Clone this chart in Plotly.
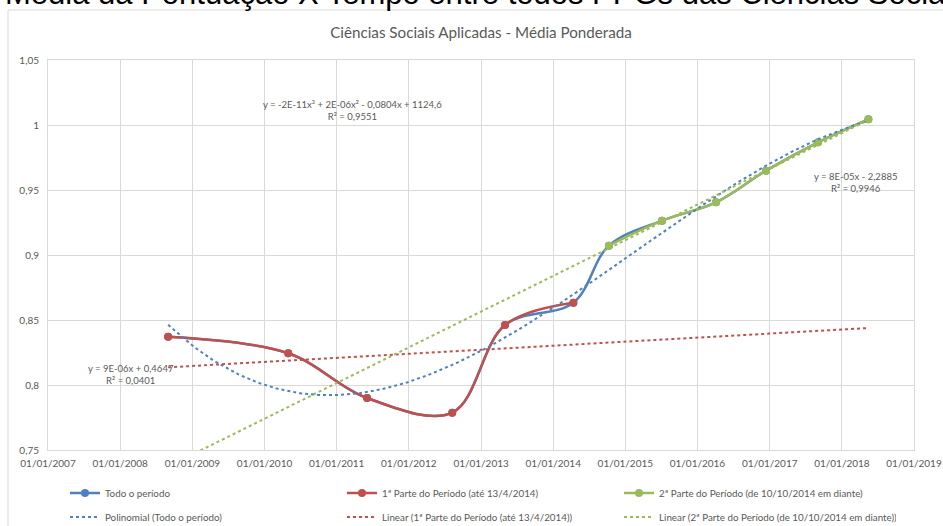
import numpy as np
import pandas as pd
import plotly.graph_objects as go

# 1ª parte do período (até 13/4/2014)
datas_p1 = ["2008-08-31", "2010-05-01", "2011-06-04", "2012-08-08", "2013-05-02", "2014-04-13"]
media_p1 = [0.8371, 0.8244, 0.7900, 0.7787, 0.8462, 0.8633]

# 2ª parte do período (de 10/10/2014 em diante)
datas_p2 = ["2014-10-10", "2015-07-06", "2016-04-04", "2016-12-13", "2017-09-02", "2018-05-15"]
media_p2 = [0.9072, 0.9264, 0.9405, 0.9649, 0.9867, 1.0044]

# rótulos do eixo X (um por ano)
anos_ticks = pd.date_range("2007-01-01", "2019-01-01", freq="YS")

# textos das equações de tendência
eq_poli = "y = -2E-11x³ + 2E-06x² - 0,0804x + 1124,6<br>R² = 0,9551"
eq_lin1 = "y = 9E-06x + 0,4647<br>R² = 0,0401"
eq_lin2 = "y = 8E-05x - 2,2885<br>R² = 0,9946"

AZUL, VERMELHO, VERDE = "#4F81BD", "#C0504D", "#9BBB59"
CINZA = "#595959"
FONTE = "Lato, Roboto, sans-serif"

d1 = pd.to_datetime(datas_p1)
d2 = pd.to_datetime(datas_p2)
d_all = d1.append(d2)
y_all = media_p1 + media_p2
t0 = d_all[0]


def dias(d):
    return np.asarray((d - t0).days, dtype=float)


# linhas de tendência ajustadas pelos dados
x_fit = pd.date_range(d_all[0], d_all[-1], periods=300)
c_poli = np.polyfit(dias(d_all), y_all, 3)
c_lin1 = np.polyfit(dias(d1), media_p1, 1)
c_lin2 = np.polyfit(dias(d2), media_p2, 1)

fig = go.Figure()

fig.add_trace(go.Scatter(
    x=d_all, y=y_all, name="Todo o período", mode="lines+markers", legend="legend",
    line=dict(color=AZUL, width=2.5, shape="spline", smoothing=1),
    marker=dict(color=AZUL, size=8)))
fig.add_trace(go.Scatter(
    x=d1, y=media_p1, name="1ª Parte do Período (até 13/4/2014)", mode="lines+markers",
    legend="legend",
    line=dict(color=VERMELHO, width=2.5, shape="spline", smoothing=1),
    marker=dict(color=VERMELHO, size=8)))
fig.add_trace(go.Scatter(
    x=d2, y=media_p2, name="2ª Parte do Período (de 10/10/2014 em diante)", mode="lines+markers",
    legend="legend",
    line=dict(color=VERDE, width=2.5, shape="spline", smoothing=1),
    marker=dict(color=VERDE, size=8)))
fig.add_trace(go.Scatter(
    x=x_fit, y=np.polyval(c_poli, dias(x_fit)), name="Polinomial (Todo o período)",
    mode="lines", legend="legend2", line=dict(color=AZUL, width=2, dash="dot")))
fig.add_trace(go.Scatter(
    x=x_fit, y=np.polyval(c_lin1, dias(x_fit)), name="Linear (1ª Parte do Período (até 13/4/2014))",
    mode="lines", legend="legend2", line=dict(color=VERMELHO, width=2, dash="dot")))
fig.add_trace(go.Scatter(
    x=x_fit, y=np.polyval(c_lin2, dias(x_fit)),
    name="Linear (2ª Parte do Período (de 10/10/2014 em diante))",
    mode="lines", legend="legend2", line=dict(color=VERDE, width=2, dash="dot")))

W, H = 943, 526
L, R, T, B = 48, 29, 60, 76
PW, PH = W - L - R, H - T - B


def px(x):
    return (x - L) / PW


def py(y):
    return (H - B - y) / PH


def legenda(y_centro):
    return dict(orientation="h", xref="container", yref="container",
                x=65 / W, xanchor="left", y=1 - y_centro / H, yanchor="middle",
                entrywidth=232, entrywidthmode="pixels",
                font=dict(family=FONTE, size=9.8, color=CINZA),
                bgcolor="rgba(0,0,0,0)")


fig.update_layout(
    width=W, height=H,
    margin=dict(l=L, r=R, t=T, b=B, autoexpand=False),
    paper_bgcolor="white", plot_bgcolor="white",
    separators=",.",
    font=dict(family=FONTE, size=10, color=CINZA),
    title=dict(text="Ciências Sociais Aplicadas - Média Ponderada",
               x=0.5, xref="paper", xanchor="center",
               y=1 - 33 / H, yref="container", yanchor="middle",
               font=dict(family=FONTE, size=15.2, color=CINZA)),
    showlegend=True,
    legend=legenda(493),
    legend2=legenda(517),
    xaxis=dict(type="date", range=["2007-01-01", "2019-01-01"],
               tickvals=anos_ticks, tickformat="%d/%m/%Y",
               showgrid=True, gridcolor="#D9D9D9", gridwidth=1,
               showline=True, linecolor="#D9D9D9", mirror=True,
               zeroline=False, ticks="", ticklabelstandoff=4,
               tickfont=dict(family=FONTE, size=10, color=CINZA)),
    yaxis=dict(range=[0.75, 1.05], tick0=0.75, dtick=0.05,
               showgrid=True, gridcolor="#D9D9D9", gridwidth=1,
               showline=True, linecolor="#D9D9D9", mirror=True,
               zeroline=False, ticks="", ticklabelstandoff=6,
               tickfont=dict(family=FONTE, size=10, color=CINZA)),
    shapes=[dict(type="rect", xref="paper", yref="paper", layer="below",
                 x0=px(8), x1=px(W + 20), y0=py(H + 20), y1=py(10),
                 line=dict(color="#D9D9D9", width=1), fillcolor="rgba(0,0,0,0)")],
    annotations=[
        dict(text="Média da Pontuação X Tempo entre todos PPGs das Ciências Sociais Aplicadas",
             xref="paper", yref="paper", x=px(3), y=py(13), xanchor="left", yanchor="bottom",
             showarrow=False,
             font=dict(family="Liberation Sans, Arial, sans-serif", size=31, color="#000000")),
        dict(text=eq_poli, xref="paper", yref="paper", x=px(352), y=py(110),
             xanchor="center", yanchor="middle", showarrow=False,
             font=dict(family=FONTE, size=9.5, color=CINZA)),
        dict(text=eq_lin1, xref="paper", yref="paper", x=px(131), y=py(374),
             xanchor="center", yanchor="middle", showarrow=False,
             font=dict(family=FONTE, size=9.5, color=CINZA)),
        dict(text=eq_lin2, xref="paper", yref="paper", x=px(855), y=py(182),
             xanchor="center", yanchor="middle", showarrow=False,
             font=dict(family=FONTE, size=9.5, color=CINZA)),
    ],
)

fig.write_html("out.html")
